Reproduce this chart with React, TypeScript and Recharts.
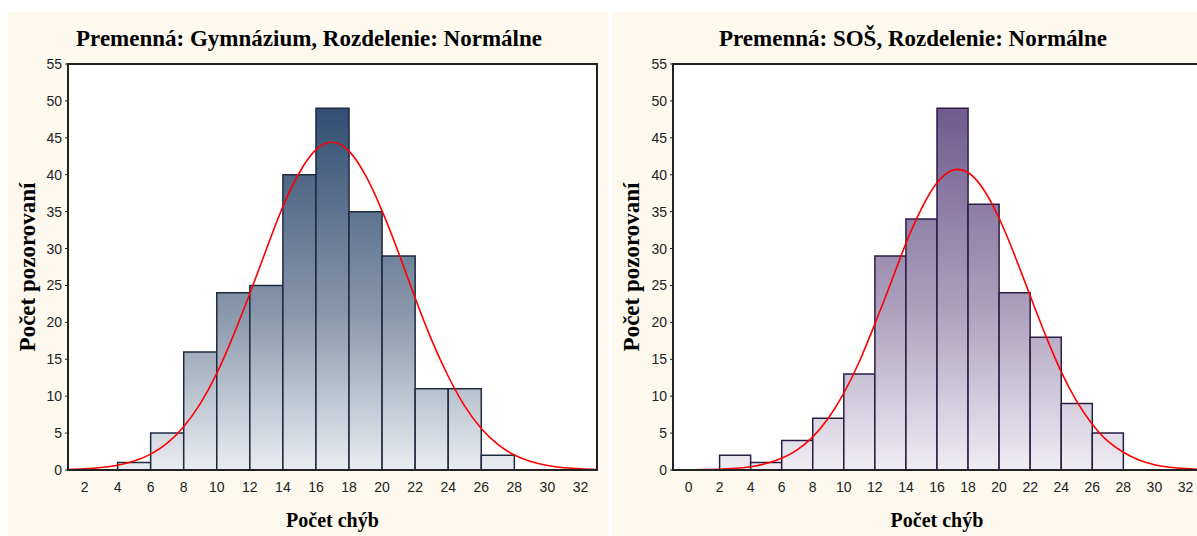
import { ComposedChart, Line, XAxis, YAxis, CartesianGrid, ReferenceArea } from "recharts";

// histogram bins (start of each 2-wide bin) and counts
const gymBinStart = [2, 4, 6, 8, 10, 12, 14, 16, 18, 20, 22, 24, 26];
const gymCounts = [0, 1, 5, 16, 24, 25, 40, 49, 35, 29, 11, 11, 2];
const sosBinStart = [0, 2, 4, 6, 8, 10, 12, 14, 16, 18, 20, 22, 24, 26];
const sosCounts = [0, 2, 1, 4, 7, 13, 29, 34, 49, 36, 24, 18, 9, 5];
const BIN_WIDTH = 2;

// fitted normal curve
const gymCurveX = [1, 2, 3, 4, 5, 6, 7, 8, 9, 10, 11, 12, 13, 14, 15, 16, 17, 18, 19, 20, 21, 22, 23, 24, 25, 26, 27, 28, 29, 30, 31, 32, 33];
const gymCurveY = [0.07, 0.16, 0.33, 0.64, 1.21, 2.15, 3.64, 5.87, 9.0, 13.1, 18.2, 23.9, 29.9, 35.7, 40.3, 43.4, 44.4, 43.2, 39.9, 35.1, 29.4, 23.3, 17.6, 12.7, 8.65, 5.62, 3.47, 2.03, 1.14, 0.6, 0.3, 0.15, 0.07];
const sosCurveX = [-1, 0, 1, 2, 3, 4, 5, 6, 7, 8, 9, 10, 11, 12, 13, 14, 15, 16, 17, 18, 19, 20, 21, 22, 23, 24, 25, 26, 27, 28, 29, 30, 31, 32, 33];
const sosCurveY = [0.01, 0.02, 0.05, 0.11, 0.23, 0.45, 0.87, 1.58, 2.72, 4.48, 7.0, 10.4, 14.7, 19.8, 25.2, 30.7, 35.4, 38.9, 40.6, 40.3, 38.0, 34.1, 29.1, 23.6, 18.2, 13.3, 9.3, 6.2, 3.9, 2.4, 1.35, 0.72, 0.37, 0.18, 0.08];

const yTicks = [0, 5, 10, 15, 20, 25, 30, 35, 40, 45, 50, 55];
const gymXTicks = [2, 4, 6, 8, 10, 12, 14, 16, 18, 20, 22, 24, 26, 28, 30, 32];
const sosXTicks = [0, 2, 4, 6, 8, 10, 12, 14, 16, 18, 20, 22, 24, 26, 28, 30, 32];

const CREAM = "#fdf9ef";
const SERIF = '"Liberation Serif", "Times New Roman", serif';
const SANS = '"Liberation Sans", Arial, sans-serif';
const tickStyle = { fontFamily: SANS, fontSize: 14, fill: "#222" };

interface PanelProps {
  id: string;
  title: string;
  left: number;
  yAxisWidth: number;
  bins: number[];
  counts: number[];
  curveX: number[];
  curveY: number[];
  xTicks: number[];
  xDomain: [number, number];
  stops: [number, string][];
  edge: string;
}

function Panel(p: PanelProps) {
  const data = p.curveX.map((x, i) => ({ x, y: p.curveY[i] }));
  const gradId = "grad-" + p.id;
  return (
    <div style={{ position: "absolute", left: p.left, top: 12, width: 600, height: 524, background: CREAM }}>
      <ComposedChart width={600} height={524} data={data} margin={{ top: 52, right: 11, bottom: 36, left: 0 }}>
        <defs>
          <linearGradient id={gradId} gradientUnits="userSpaceOnUse" x1="0" y1="52" x2="0" y2="458">
            {p.stops.map(([o, c]) => (
              <stop key={o} offset={o} stopColor={c} />
            ))}
          </linearGradient>
        </defs>
        <rect x={p.yAxisWidth} y={52} width={589 - p.yAxisWidth} height={406} fill="#fff" />
        <CartesianGrid stroke="#d9d9d9" strokeWidth={1} />
        <XAxis
          dataKey="x"
          type="number"
          domain={p.xDomain}
          ticks={p.xTicks}
          interval={0}
          allowDataOverflow
          height={30}
          tickLine={false}
          tickSize={6}
          tickMargin={6}
          axisLine={{ stroke: "#222", strokeWidth: 2 }}
          tick={tickStyle}
        />
        <YAxis
          type="number"
          domain={[0, 55]}
          ticks={yTicks}
          interval={0}
          allowDataOverflow
          width={p.yAxisWidth}
          tickSize={3}
          tickMargin={3}
          tickLine={{ stroke: "#222" }}
          axisLine={{ stroke: "#222", strokeWidth: 2 }}
          tick={tickStyle}
        />
        {p.bins.map((b, i) => (
          <ReferenceArea
            key={b}
            x1={b}
            x2={b + BIN_WIDTH}
            y1={0}
            y2={p.counts[i]}
            fill={`url(#${gradId})`}
            fillOpacity={1}
            stroke={p.edge}
            strokeWidth={1.5}
            ifOverflow="visible"
          />
        ))}
        {/* plot frame */}
        <ReferenceArea
          x1={p.xDomain[0]}
          x2={p.xDomain[1]}
          y1={0}
          y2={55}
          fill="none"
          stroke="#222"
          strokeWidth={2}
          ifOverflow="visible"
        />
        <Line
          dataKey="y"
          type="natural"
          stroke="#ff0000"
          strokeWidth={1.6}
          dot={false}
          activeDot={false}
          isAnimationActive={false}
        />
      </ComposedChart>
      <svg width={600} height={524} style={{ position: "absolute", left: 0, top: 0, pointerEvents: "none" }}>
        <text x={301} y={34} textAnchor="middle" fontFamily={SERIF} fontWeight="bold" fontSize={23} fill="#000">
          {p.title}
        </text>
        <text
          x={27}
          y={255}
          transform="rotate(-90 27 255)"
          textAnchor="middle"
          fontFamily={SERIF}
          fontWeight="bold"
          fontSize={23}
          fill="#000"
        >
          Počet pozorovaní
        </text>
        <text x={(p.yAxisWidth + 589) / 2} y={515} textAnchor="middle" fontFamily={SERIF} fontWeight="bold" fontSize={20} fill="#000">
          Počet chýb
        </text>
      </svg>
    </div>
  );
}

export default function App() {
  return (
    <div style={{ position: "absolute", left: 0, top: 0, width: 1197, height: 536, overflow: "hidden", background: "#fff" }}>
      <Panel
        id="gym"
        title="Premenná: Gymnázium, Rozdelenie: Normálne"
        left={8}
        yAxisWidth={60}
        bins={gymBinStart}
        counts={gymCounts}
        curveX={gymCurveX}
        curveY={gymCurveY}
        xTicks={gymXTicks}
        xDomain={[1, 33]}
        stops={[
          [0, "#27426a"],
          [0.09, "#2f4b6f"],
          [0.62, "#8a99ad"],
          [0.975, "#e4e7ec"],
          [1, "#e8ebef"],
        ]}
        edge="#1e2a40"
      />
      <Panel
        id="sos"
        title="Premenná: SOŠ, Rozdelenie: Normálne"
        left={612}
        yAxisWidth={61}
        bins={sosBinStart}
        counts={sosCounts}
        curveX={sosCurveX}
        curveY={sosCurveY}
        xTicks={sosXTicks}
        xDomain={[-1, 33]}
        stops={[
          [0, "#62507f"],
          [0.1, "#6e5a8c"],
          [0.6, "#aca0bd"],
          [0.975, "#ebe8f0"],
          [1, "#eeecf2"],
        ]}
        edge="#2b1d45"
      />
    </div>
  );
}
